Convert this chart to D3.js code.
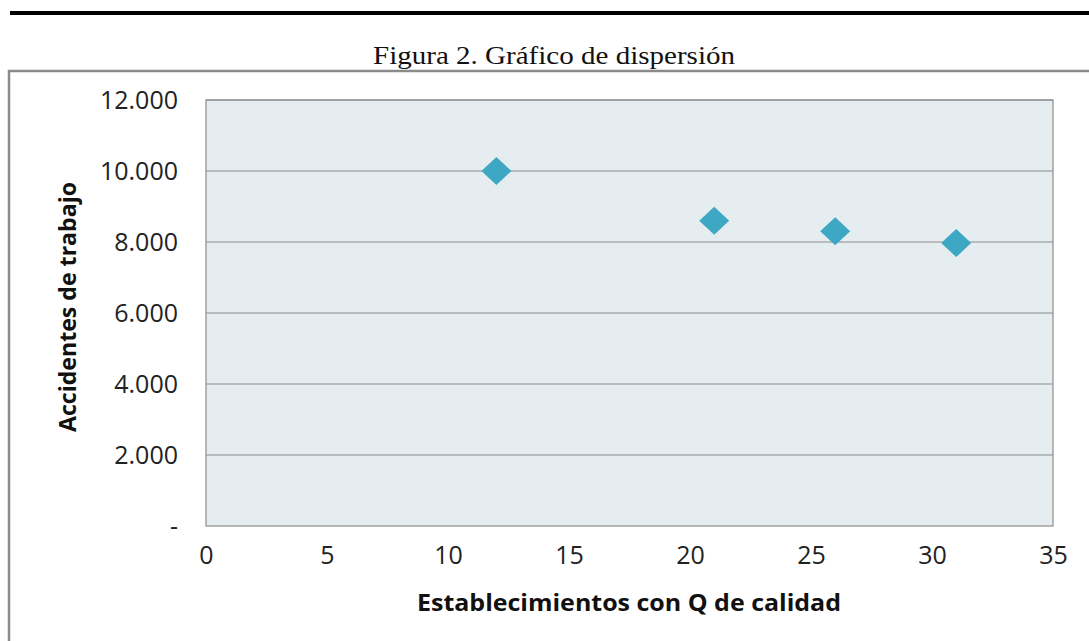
<!DOCTYPE html>
<html><head><meta charset="utf-8">
<script src="https://cdn.jsdelivr.net/npm/d3@7"></script>
<style>html,body{margin:0;padding:0;background:#fff;}svg{display:block;}</style>
</head><body>
<svg id="c" width="1089" height="641"></svg>
<script>
const title = "Figura 2. Gráfico de dispersión";
const xTitle = "Establecimientos con Q de calidad";
const yTitle = "Accidentes de trabajo";
const xValues = [12, 21, 26, 31];
const yValues = [10000, 8600, 8300, 7970];
const xTicks = [0, 5, 10, 15, 20, 25, 30, 35];
const yTicks = [0, 2000, 4000, 6000, 8000, 10000, 12000];
const yTickLabels = ["-", "2.000", "4.000", "6.000", "8.000", "10.000", "12.000"];

const svg = d3.select("#c");
const L = 206, R = 1053, T = 100, B = 526;
const x = d3.scaleLinear().domain([0, 35]).range([L, R]);
const y = d3.scaleLinear().domain([0, 12000]).range([B, T]);

// top rule
svg.append("rect").attr("x", 10).attr("y", 11).attr("width", 1079).attr("height", 4).attr("fill", "#000");
// title
svg.append("text").attr("x", 373).attr("y", 64)
  .attr("font-family", "'Liberation Serif', serif").attr("font-size", 26).attr("fill", "#111")
  .attr("textLength", 362).attr("lengthAdjust", "spacingAndGlyphs").text(title);
// chart frame
svg.append("path").attr("d", "M9,641 V71 H1089").attr("fill", "none").attr("stroke", "#8a8a8a").attr("stroke-width", 2.5);

// plot area
svg.append("rect").attr("x", L).attr("y", T).attr("width", R - L).attr("height", B - T).attr("fill", "#e6edf1");

// gridlines
svg.append("g").selectAll("line").data(yTicks.filter(d => d > 0)).join("line")
  .attr("x1", L).attr("x2", R).attr("y1", d => y(d)).attr("y2", d => y(d))
  .attr("stroke", "#8c8c8c").attr("stroke-width", 1.2);
// plot border
svg.append("rect").attr("x", L).attr("y", T).attr("width", R - L).attr("height", B - T)
  .attr("fill", "none").attr("stroke", "#8c8c8c").attr("stroke-width", 1.2);

// axes
const yAxis = d3.axisLeft(y).tickValues(yTicks).tickSize(0).tickPadding(28)
  .tickFormat((d, i) => yTickLabels[i]);
const gy = svg.append("g").attr("transform", `translate(${L},0)`).call(yAxis);
gy.select(".domain").remove();
gy.selectAll("text").attr("font-family", "'Open Sans', sans-serif").attr("font-size", 25).attr("fill", "#222");

const xAxis = d3.axisBottom(x).tickValues(xTicks).tickSize(0).tickPadding(20).tickFormat(d3.format("d"));
const gx = svg.append("g").attr("transform", `translate(0,${B})`).call(xAxis);
gx.select(".domain").remove();
gx.selectAll("text").attr("font-family", "'Open Sans', sans-serif").attr("font-size", 25).attr("fill", "#222");

// axis titles
svg.append("text").attr("x", 417).attr("y", 611)
  .attr("font-family", "'Open Sans', sans-serif").attr("font-weight", "bold").attr("font-size", 22.5).attr("fill", "#111")
  .attr("textLength", 424).attr("lengthAdjust", "spacingAndGlyphs").text(xTitle);
svg.append("text").attr("transform", "translate(76,432) rotate(-90)")
  .attr("font-family", "'Open Sans', sans-serif").attr("font-weight", "bold").attr("font-size", 22.5).attr("fill", "#111")
  .attr("textLength", 250).attr("lengthAdjust", "spacingAndGlyphs").text(yTitle);

// points
const pts = xValues.map((v, i) => [v, yValues[i]]);
svg.append("g").selectAll("path").data(pts).join("path")
  .attr("transform", d => `translate(${x(d[0])},${y(d[1])})`)
  .attr("d", "M0,-14 L15,0 L0,14 L-15,0 Z")
  .attr("fill", "#3ea8c4");
</script>
</body></html>
